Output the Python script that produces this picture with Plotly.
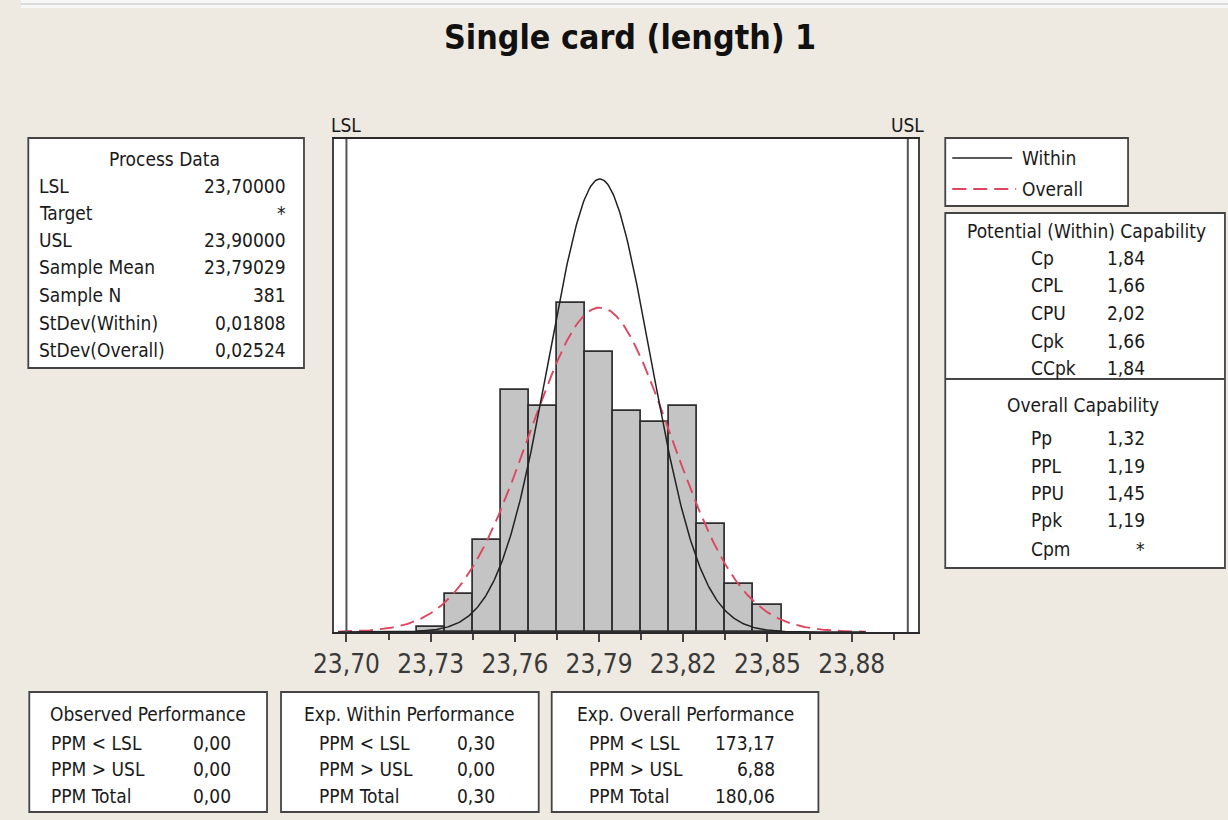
import numpy as np
import plotly.graph_objects as go

# ---------------- data ----------------
bin_centers = [23.73, 23.74, 23.75, 23.76, 23.77, 23.78, 23.79, 23.80, 23.81, 23.82, 23.83, 23.84, 23.85]
bin_counts = [1, 7, 17, 45, 42, 61, 52, 41, 39, 42, 20, 9, 5]
bin_width = 0.01

LSL = 23.70
USL = 23.90
sample_mean = 23.79029
sample_n = 381
sd_within = 0.01808
sd_overall = 0.02524

tick_vals = [23.70, 23.73, 23.76, 23.79, 23.82, 23.85, 23.88]

process_labels = ["LSL", "Target", "USL", "Sample Mean", "Sample N", "StDev(Within)", "StDev(Overall)"]
process_values = ["23,70000", "*", "23,90000", "23,79029", "381", "0,01808", "0,02524"]

within_labels = ["Cp", "CPL", "CPU", "Cpk", "CCpk"]
within_values = ["1,84", "1,66", "2,02", "1,66", "1,84"]
overall_labels = ["Pp", "PPL", "PPU", "Ppk", "Cpm"]
overall_values = ["1,32", "1,19", "1,45", "1,19", "*"]

ppm_labels = ["PPM < LSL", "PPM > USL", "PPM Total"]
observed_ppm = ["0,00", "0,00", "0,00"]
exp_within_ppm = ["0,30", "0,00", "0,30"]
exp_overall_ppm = ["173,17", "6,88", "180,06"]

# ---------------- layout helpers ----------------
W, H = 1228, 820
def fx(x):
    # target pixel column -> paper fraction (compensates the page-to-picture offset seen in renders)
    return ((x - 19.7) / 0.984) / W
def fy(y):
    return 1 - y / H

FONT = "DejaVu Sans Condensed, DejaVu Sans, sans-serif"
TXT = "#1a1a1a"
BG = "#EEEAE1"
FS = 19
RED = "#DE4660"

def normal_counts(x, mu, sd):
    return sample_n * bin_width * np.exp(-0.5 * ((x - mu) / sd) ** 2) / (sd * np.sqrt(2 * np.pi))

xc = np.linspace(23.697, 23.885, 500)

fig = go.Figure()
fig.add_trace(go.Bar(x=bin_centers, y=bin_counts, width=bin_width,
                     marker=dict(color="#C4C4C4", line=dict(color="#2e2e2e", width=1.7)),
                     showlegend=False, hoverinfo="skip"))
fig.add_trace(go.Scatter(x=xc, y=normal_counts(xc, sample_mean, sd_overall), mode="lines",
                         line=dict(color=RED, width=1.9, dash="14px,7px"),
                         showlegend=False, hoverinfo="skip"))
fig.add_trace(go.Scatter(x=xc, y=normal_counts(xc, sample_mean, sd_within), mode="lines",
                         line=dict(color="#222222", width=1.5),
                         showlegend=False, hoverinfo="skip"))

px_per_unit = (907.5 - 345.5) / (USL - LSL)
x_lo = LSL - (345.5 - 333) / px_per_unit
x_hi = USL + (918 - 907.5) / px_per_unit
peak_within = normal_counts(sample_mean, sample_mean, sd_within)
px_per_count = (632 - 179) / peak_within
y_hi = (632 - 139) / px_per_count

shapes = []
annotations = []

# decorative top strip
shapes.append(dict(type="rect", xref="paper", yref="paper", x0=0, x1=1, y0=fy(8), y1=1,
                   fillcolor="#F7F7F7", line=dict(width=0), layer="below"))
shapes.append(dict(type="line", xref="paper", yref="paper", x0=0, x1=1, y0=fy(4), y1=fy(4),
                   line=dict(color="#DADADA", width=2), layer="below"))

# spec limit lines
for v in (LSL, USL):
    shapes.append(dict(type="line", xref="x", yref="y domain", x0=v, x1=v, y0=0, y1=1,
                       line=dict(color="#555555", width=2)))
annotations.append(dict(x=LSL, y=fy(125), xref="x", yref="paper", text="LSL", showarrow=False,
                        xanchor="center", yanchor="middle", font=dict(family=FONT, size=FS, color=TXT)))
annotations.append(dict(x=USL, y=fy(125), xref="x", yref="paper", text="USL", showarrow=False,
                        xanchor="center", yanchor="middle", font=dict(family=FONT, size=FS, color=TXT)))

def box(x0, y0, x1, y1):
    shapes.append(dict(type="rect", xref="paper", yref="paper", x0=fx(x0), x1=fx(x1), y0=fy(y1), y1=fy(y0),
                       fillcolor="white", line=dict(color="#444444", width=1.8)))

def text(x, y, s, anchor="left", size=FS):
    annotations.append(dict(x=fx(x), y=fy(y), xref="paper", yref="paper", text=s, showarrow=False,
                            xanchor=anchor, yanchor="middle", font=dict(family=FONT, size=size, color=TXT)))

# title
annotations.append(dict(x=fx(629), y=fy(37), xref="paper", yref="paper", text="<b>Single card (length) 1</b>",
                        showarrow=False, xanchor="center", yanchor="middle",
                        font=dict(family=FONT, size=33.7, color="#111111")))

# Process Data box
box(27, 138, 303, 368)
text(163, 159, "Process Data", "center")
pd_y = [186, 213, 240, 267, 295, 323, 350]
for lab, val, yy in zip(process_labels, process_values, pd_y):
    text(36, yy, lab, "left")
    text(287, yy, val, "right")

# legend box
box(945, 138, 1128, 206)
shapes.append(dict(type="line", xref="paper", yref="paper", x0=fx(952), x1=fx(1012), y0=fy(158), y1=fy(158),
                   line=dict(color="#222222", width=1.5)))
shapes.append(dict(type="line", xref="paper", yref="paper", x0=fx(952), x1=fx(1016), y0=fy(189), y1=fy(189),
                   line=dict(color=RED, width=1.9, dash="14px,7px")))
text(1020, 158, "Within", "left")
text(1020, 189, "Overall", "left")

# capability box
box(945, 213, 1225, 568)
shapes.append(dict(type="line", xref="paper", yref="paper", x0=fx(945), x1=fx(1225), y0=fy(379), y1=fy(379),
                   line=dict(color="#444444", width=1.8)))
text(1086, 231, "Potential (Within) Capability", "center")
for lab, val, yy in zip(within_labels, within_values, [258, 285, 313, 341, 368]):
    text(1029, yy, lab, "left")
    text(1147, yy, val, "right")
text(1083, 405, "Overall Capability", "center")
for lab, val, yy in zip(overall_labels, overall_values, [438, 466, 493, 520, 549]):
    text(1029, yy, lab, "left")
    text(1147, yy, val, "right")

# bottom performance boxes
perf = [
    ("Observed Performance", observed_ppm, 28, 266, 48, 232),
    ("Exp. Within Performance", exp_within_ppm, 280, 538, 316, 496),
    ("Exp. Overall Performance", exp_overall_ppm, 551, 818, 586, 777),
]
for title, vals, bx0, bx1, lx, vx in perf:
    box(bx0, 692, bx1, 812)
    text((bx0 + bx1) / 2, 714, title, "center")
    for lab, val, yy in zip(ppm_labels, vals, [743, 769, 796]):
        text(lx, yy, lab, "left")
        text(vx, yy, val, "right")

fig.update_layout(
    width=W, height=H, autosize=False,
    margin=dict(l=0, r=0, t=0, b=0),
    paper_bgcolor=BG, plot_bgcolor="white",
    separators=",.",
    bargap=0,
    shapes=shapes, annotations=annotations,
    showlegend=False,
    xaxis=dict(domain=[fx(333), fx(918)], range=[x_lo, x_hi],
               tickmode="array", tickvals=tick_vals, tickformat=".2f",
               ticks="outside", ticklen=8, tickwidth=1.5, tickcolor="#444444",
               minor=dict(dtick=0.015, tick0=LSL, ticks="outside", ticklen=6, tickwidth=1.5, tickcolor="#444444"),
               tickfont=dict(family=FONT, size=26, color="#3a3a3a"),
               showline=True, mirror=True, linecolor="#2a2a2a", linewidth=2.2,
               showgrid=False, zeroline=False, fixedrange=True),
    yaxis=dict(domain=[fy(632), fy(139)], range=[0, y_hi],
               showticklabels=False, ticks="", showgrid=False, zeroline=False,
               showline=True, mirror=True, linecolor="#444444", linewidth=2, fixedrange=True),
)

fig.write_html(
    "out.html",
    config={"displayModeBar": False},
    post_script=(
        "document.body.style.margin='0';"
        "document.body.style.padding='0';"
        "document.body.style.overflow='hidden';"
        "document.documentElement.style.overflow='hidden';"
    ),
)
